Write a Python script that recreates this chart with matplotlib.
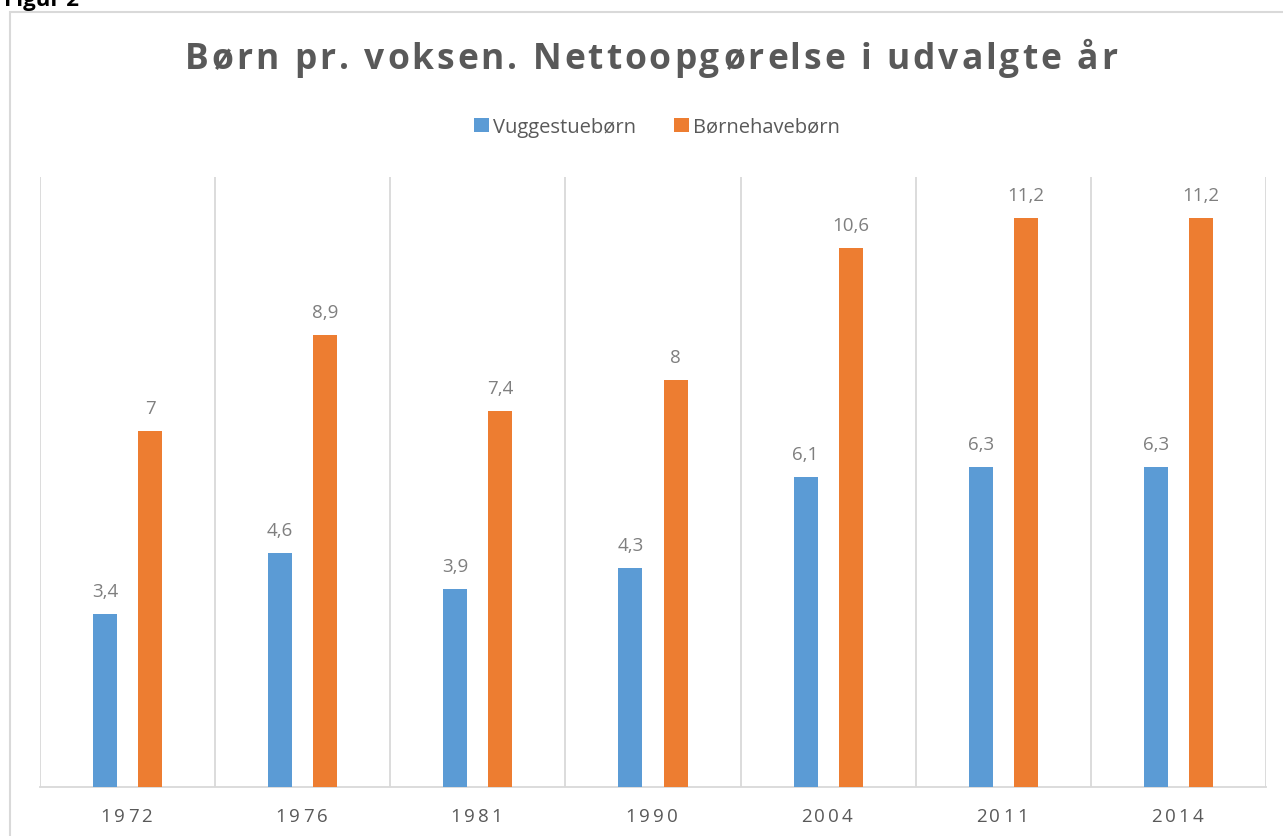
import matplotlib
matplotlib.use("Agg")
import matplotlib.pyplot as plt
import numpy as np
from matplotlib.font_manager import FontProperties
from matplotlib.transforms import offset_copy
from matplotlib.patches import Rectangle, Patch

years = ["1972", "1976", "1981", "1990", "2004", "2011", "2014"]
vuggestue = [3.4, 4.6, 3.9, 4.3, 6.1, 6.3, 6.3]
boernehave = [7, 8.9, 7.4, 8, 10.6, 11.2, 11.2]
series_names = ["Vuggestuebørn", "Børnehavebørn"]
title = "Børn pr. voksen. Nettoopgørelse i udvalgte år"

BLUE = "#5B9BD5"
ORANGE = "#ED7D31"
GRID = "#D9D9D9"
TXT = "#595959"
LBL = "#7F7F7F"
FONT = "Open Sans"

W, H = 1283, 837
fig = plt.figure(figsize=(W / 100, H / 100), dpi=100)
renderer = fig.canvas.get_renderer()

# outer chart border
fig.patches.append(Rectangle((10 / W, -0.02), 1.1, 1 - 13 / H + 0.02, transform=fig.transFigure,
                             fill=False, edgecolor="#D9D9D9", linewidth=1.5))
fig.text(4 / W, 1 - 6 / H, "Figur 2", fontsize=16, fontweight="bold", color="black",
         family=FONT, va="baseline", ha="left")

ax = fig.add_axes([40 / W, 1 - 788 / H, (1266 - 40) / W, (788 - 178) / H])
x = np.arange(len(years))
bw = 0.137
off = 0.129
b1 = ax.bar(x - off, vuggestue, bw, color=BLUE, zorder=3)
b2 = ax.bar(x + off, boernehave, bw, color=ORANGE, zorder=3)
ax.set_xlim(-0.5, len(years) - 0.5)
ax.set_ylim(0, 12)

for xi in np.arange(-0.5, len(years), 1.0):
    ax.axvline(xi, color=GRID, linewidth=1.3, zorder=1)
for s in ["top", "left", "right"]:
    ax.spines[s].set_visible(False)
ax.spines["bottom"].set_color(GRID)
ax.spines["bottom"].set_linewidth(1.3)
ax.set_yticks([])
ax.set_xticks([])


def fmt(v):
    return (("%g" % v)).replace(".", ",")


for bars, vals in ((b1, vuggestue), (b2, boernehave)):
    for r, v in zip(bars, vals):
        ax.annotate(fmt(v), (r.get_x() + r.get_width() / 2, v), xytext=(0, 13),
                    textcoords="offset points", ha="center", va="baseline",
                    fontsize=13.5, color=LBL, family=FONT)


def width_of(s, fp):
    w1 = renderer.get_text_width_height_descent(s + "x", fp, ismath=False)[0]
    w2 = renderer.get_text_width_height_descent("x", fp, ismath=False)[0]
    return w1 - w2


def tracked(xpos, ypos, s, transform, fp, target_px, color, va="baseline"):
    natural = width_of(s, fp)
    tracking = (target_px - natural) / (len(s) - 1)
    pos = [width_of(s[:i], fp) + i * tracking for i in range(len(s))]
    total = natural + (len(s) - 1) * tracking
    for i, c in enumerate(s):
        if c == " ":
            continue
        tr = offset_copy(transform, fig=fig, x=(pos[i] - total / 2) * 72 / fig.dpi, y=0, units="points")
        fig.text(xpos, ypos, c, transform=tr, fontproperties=fp, color=color, ha="left", va=va)


# title
tfp = FontProperties(family=FONT, weight="bold", size=25.5)
tracked(651 / W, 1 - 69 / H, title, fig.transFigure, tfp, 932, TXT)

# x tick labels
xfp = FontProperties(family=FONT, size=13.5)
for xi, yr in zip(x, years):
    xf = (40 + (xi + 0.5) * (1226 / 7)) / W
    tracked(xf - 1.5 / W, 1 - 822 / H, yr, fig.transFigure, xfp, 52, TXT)

# legend
handles = [Patch(facecolor=BLUE), Patch(facecolor=ORANGE)]
fig.legend(handles, series_names, loc="center", bbox_to_anchor=(657 / W, 1 - 128 / H), ncol=2,
           frameon=False, handlelength=0.75, handleheight=0.75, handletextpad=0.2,
           columnspacing=1.9, prop=FontProperties(family=FONT, size=14.5), labelcolor=TXT)

fig.savefig("out.png", dpi=100)
